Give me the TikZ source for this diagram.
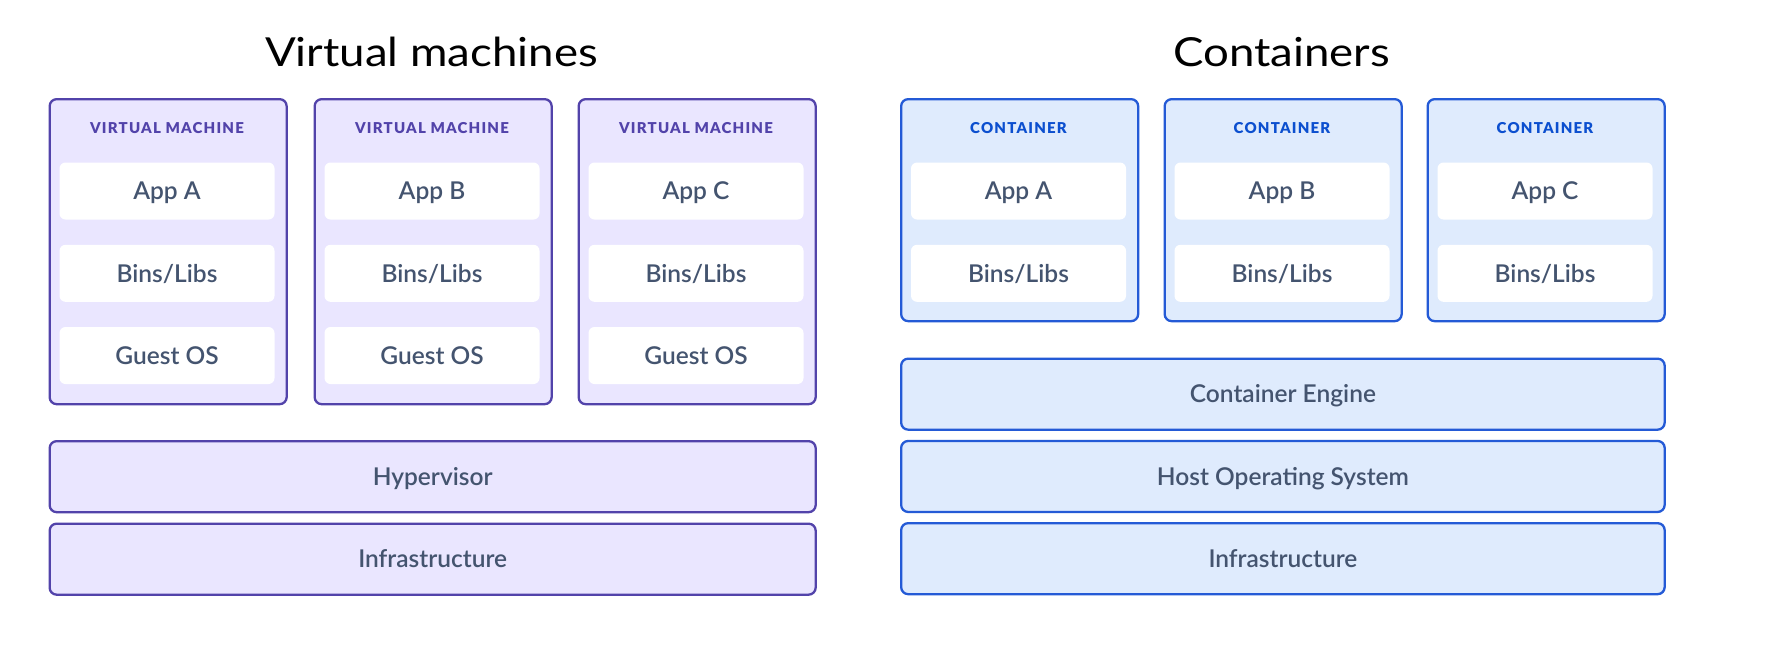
\documentclass[tikz,border=0pt]{standalone}
\usepackage{fontspec}
\setmainfont{Lato}
\newfontfamily\bodyfont{Lato Semibold}
\newfontfamily\titlefont{Lato}[FakeStretch=1.14]
\newfontfamily\tagfont{Lato Black}[LetterSpace=8.0]
\definecolor{vmfill}{HTML}{EAE6FF}
\definecolor{vmline}{HTML}{5243AA}
\definecolor{ctfill}{HTML}{DFEBFD}
\definecolor{ctline}{HTML}{245AD6}
\definecolor{ctlabel}{HTML}{0C4FCF}
\definecolor{txt}{HTML}{44546F}
\begin{document}
\begin{tikzpicture}[x=1pt,y=-1pt,
  outer/.style={draw, line width=2.3pt, rounded corners=7pt, inner sep=0pt},
  vmbox/.style={outer, draw=vmline, fill=vmfill},
  ctbox/.style={outer, draw=ctline, fill=ctfill},
  inner/.style={fill=white, rounded corners=6pt, inner sep=0pt, minimum width=215pt, minimum height=57pt,
    font=\bodyfont\fontsize{24.5}{28}\selectfont, text=txt, text height=17.6pt, text depth=0pt},
  bar/.style={inner sep=0pt, minimum height=71pt, font=\bodyfont\fontsize{24.5}{28}\selectfont, text=txt,
    text height=17.6pt, text depth=0pt},
  tag/.style={font=\tagfont\fontsize{15}{18}\selectfont, text height=10.8pt, text depth=0pt, inner sep=0pt},
  title/.style={font=\titlefont\fontsize{40}{48}\selectfont, text=black, text height=28.8pt, text depth=0pt, inner sep=0pt}
]
\useasboundingbox (0,0) rectangle (1768,662);
\fill[white] (0,0) rectangle (1768,662);

% titles
\node[title] (vmtitle) at (431.5,52.3) {Virtual machines};
\node[title] (cttitle) at (1281.75,52.3) {Containers};

% virtual machines
\foreach \n/\x/\app in {1/48.5/A, 2/313.5/B, 3/577.5/C}{
  \node[vmbox, anchor=north west, minimum width=237pt, minimum height=305pt] (vm\n) at (\x,98) {};
  \node[tag, text=vmline] (vmtag\n) at (\x+118.5,127.7) {VIRTUAL MACHINE};
  \node[inner] (vmapp\n) at (\x+118.5,191) {App \app};
  \node[inner] (vmbins\n) at (\x+118.5,273.3) {Bins/Libs};
  \node[inner] (vmos\n) at (\x+118.5,355.5) {Guest OS};
}
\node[vmbox, bar, anchor=north west, minimum width=766pt] (hyper) at (48.5,440) {Hypervisor};
\node[vmbox, bar, anchor=north west, minimum width=766pt] (vminfra) at (48.5,522.5) {Infrastructure};

% containers
\foreach \n/\x/\app in {1/900/A, 2/1163.5/B, 3/1426.5/C}{
  \node[ctbox, anchor=north west, minimum width=237pt, minimum height=222pt] (ct\n) at (\x,98) {};
  \node[tag, text=ctlabel] (cttag\n) at (\x+118.5,127.7) {CONTAINER};
  \node[inner] (ctapp\n) at (\x+118.5,191) {App \app};
  \node[inner] (ctbins\n) at (\x+118.5,273.3) {Bins/Libs};
}
\node[ctbox, bar, anchor=north west, minimum width=763.5pt] (engine) at (900,357.5) {Container Engine};
\node[ctbox, bar, anchor=north west, minimum width=763.5pt] (host) at (900,439.8) {Host Operating System};
\node[ctbox, bar, anchor=north west, minimum width=763.5pt] (ctinfra) at (900,522) {Infrastructure};
\end{tikzpicture}
\end{document}
